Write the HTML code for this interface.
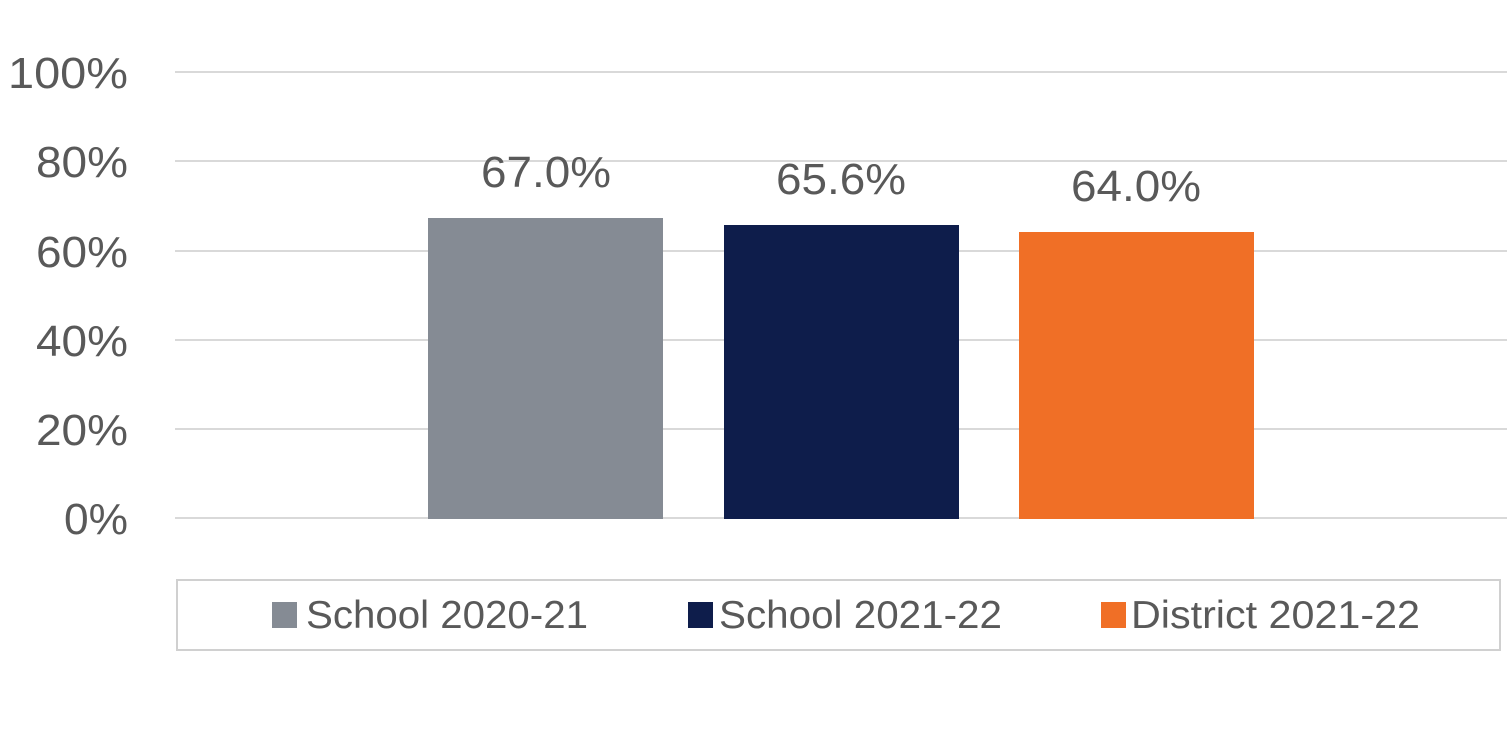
<!DOCTYPE html>
<html><head><style>
body{margin:0;background:#fff;width:1507px;height:724px;overflow:hidden;font-family:"Liberation Sans",sans-serif;}
</style></head><body>
<svg width="1507" height="724" xmlns="http://www.w3.org/2000/svg" font-family="Liberation Sans, sans-serif" fill="#595959">
<g stroke="#d9d9d9" stroke-width="2">
<line x1="175" y1="72" x2="1507" y2="72"/>
<line x1="175" y1="161" x2="1507" y2="161"/>
<line x1="175" y1="251" x2="1507" y2="251"/>
<line x1="175" y1="340" x2="1507" y2="340"/>
<line x1="175" y1="429" x2="1507" y2="429"/>
<line x1="175" y1="518" x2="1507" y2="518"/>
</g>
<g font-size="44" text-anchor="end">
<text x="128" y="88" textLength="120" lengthAdjust="spacingAndGlyphs">100%</text>
<text x="128" y="177" textLength="92" lengthAdjust="spacingAndGlyphs">80%</text>
<text x="128" y="267" textLength="92" lengthAdjust="spacingAndGlyphs">60%</text>
<text x="128" y="356" textLength="92" lengthAdjust="spacingAndGlyphs">40%</text>
<text x="128" y="445" textLength="92" lengthAdjust="spacingAndGlyphs">20%</text>
<text x="128" y="534" textLength="64" lengthAdjust="spacingAndGlyphs">0%</text>
</g>
<rect x="428" y="218" width="235" height="301" fill="#858b94"/>
<rect x="724" y="225" width="235" height="294" fill="#0e1d4b"/>
<rect x="1019" y="232" width="235" height="287" fill="#f06f26"/>
<g font-size="44" text-anchor="middle">
<text x="546" y="187" textLength="130" lengthAdjust="spacingAndGlyphs">67.0%</text>
<text x="841" y="194" textLength="130" lengthAdjust="spacingAndGlyphs">65.6%</text>
<text x="1136" y="201" textLength="130" lengthAdjust="spacingAndGlyphs">64.0%</text>
</g>
<rect x="177" y="580" width="1323" height="70" fill="none" stroke="#d0d0d0" stroke-width="2"/>
<rect x="272" y="602" width="25" height="26" fill="#858b94"/>
<rect x="688" y="602" width="25" height="26" fill="#0e1d4b"/>
<rect x="1101" y="602" width="25" height="26" fill="#f06f26"/>
<g font-size="39">
<text x="306" y="628" textLength="282" lengthAdjust="spacingAndGlyphs">School 2020-21</text>
<text x="719" y="628" textLength="283" lengthAdjust="spacingAndGlyphs">School 2021-22</text>
<text x="1131" y="628" textLength="289" lengthAdjust="spacingAndGlyphs">District 2021-22</text>
</g>
</svg>
</body></html>
